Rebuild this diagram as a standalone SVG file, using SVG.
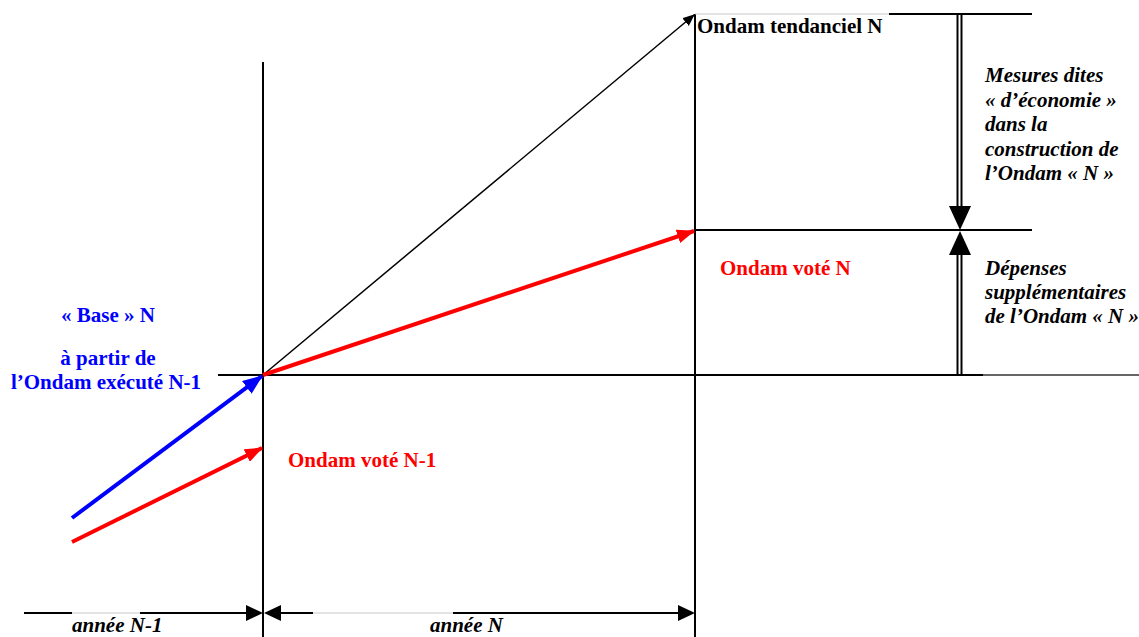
<svg xmlns="http://www.w3.org/2000/svg" width="1139" height="637" viewBox="0 0 1139 637">
<style>
text{font-family:"Liberation Serif","Times New Roman",serif;font-weight:bold;font-size:21px}
.i{font-style:italic}
.k{fill:#000}
.r{fill:#ff0000}
.b{fill:#0000ff}
.ln{stroke:#000;stroke-width:2;fill:none}
.gr{stroke:#c8c8c8;stroke-width:1;fill:none}
</style>
<defs>
<marker id="ak" markerWidth="12" markerHeight="10" refX="11" refY="5" orient="auto" markerUnits="userSpaceOnUse"><path d="M0,0 L12,5 L0,10 z" fill="#000"/></marker>
<marker id="ar" markerWidth="18" markerHeight="14" refX="17" refY="7" orient="auto" markerUnits="userSpaceOnUse"><path d="M0,0 L18,7 L0,14 z" fill="#ff0000"/></marker>
<marker id="ab" markerWidth="20" markerHeight="16" refX="19" refY="8" orient="auto" markerUnits="userSpaceOnUse"><path d="M0,0 L20,8 L0,16 z" fill="#0000ff"/></marker>
</defs>
<g id="axes">
<line class="ln" x1="263" y1="62" x2="263" y2="637"/>
<line class="ln" x1="695" y1="14" x2="695" y2="637"/>
<line class="ln" x1="218" y1="375" x2="983" y2="375"/>
<line stroke="#333" stroke-width="1.5" x1="983" y1="375" x2="1139" y2="375"/>
<line class="gr" x1="695" y1="14" x2="889" y2="14"/>
<line class="ln" x1="889" y1="14" x2="1032" y2="14"/>
<line class="ln" x1="695" y1="230" x2="1032" y2="230"/>
</g>
<g id="connectors">
<line stroke="#000" stroke-width="1.5" x1="263" y1="375" x2="694" y2="15" marker-end="url(#ak)"/>
<line stroke="#ff0000" stroke-width="4" x1="263" y1="375" x2="694" y2="231" marker-end="url(#ar)"/>
<line stroke="#0000ff" stroke-width="4" x1="72" y1="518" x2="262" y2="376" marker-end="url(#ab)"/>
<line stroke="#ff0000" stroke-width="4" x1="72" y1="542" x2="262" y2="448" marker-end="url(#ar)"/>
<g id="dim-economie">
<line class="ln" x1="957.5" y1="14" x2="957.5" y2="210"/>
<line class="ln" x1="961.5" y1="14" x2="961.5" y2="210"/>
<path d="M949,206 L971,206 L960,230 z" fill="#000"/>
</g>
<g id="dim-depenses">
<line class="ln" x1="957.5" y1="252" x2="957.5" y2="375"/>
<line class="ln" x1="961.5" y1="252" x2="961.5" y2="375"/>
<path d="M949,255 L971,255 L960,231 z" fill="#000"/>
</g>
<g id="dim-annee">
<line class="ln" x1="24" y1="613" x2="72" y2="613"/>
<line class="gr" x1="72" y1="613" x2="140" y2="613"/>
<line class="ln" x1="140" y1="613" x2="250" y2="613"/>
<path d="M246,605 L263,613 L246,621 z" fill="#000"/>
<path d="M281,605 L264,613 L281,621 z" fill="#000"/>
<line class="ln" x1="276" y1="613" x2="313" y2="613"/>
<line class="gr" x1="313" y1="613" x2="453" y2="613"/>
<line class="ln" x1="453" y1="613" x2="682" y2="613"/>
<path d="M678,605 L695,613 L678,621 z" fill="#000"/>
</g>
</g>
<g id="tendanciel"><text class="k" x="697" y="33">Ondam tendanciel N</text></g>
<g id="mesures">
<text class="k i" x="985" y="82">Mesures dites</text>
<text class="k i" x="985" y="107">« d’économie »</text>
<text class="k i" x="985" y="131">dans la</text>
<text class="k i" x="985" y="156">construction de</text>
<text class="k i" x="985" y="180">l’Ondam « N »</text>
</g>
<g id="depenses">
<text class="k i" x="985" y="275">Dépenses</text>
<text class="k i" x="985" y="299">supplémentaires</text>
<text class="k i" x="985" y="323">de l’Ondam « N »</text>
</g>
<g id="vote-n"><text class="r" x="720" y="275">Ondam voté N</text></g>
<g id="base">
<text class="b" x="108" y="322" text-anchor="middle">« Base » N</text>
<text class="b" x="108" y="365" text-anchor="middle">à partir de</text>
<text class="b" x="106" y="389" text-anchor="middle">l’Ondam exécuté N-1</text>
</g>
<g id="vote-n1"><text class="r" x="288" y="467">Ondam voté N-1</text></g>
<g id="annee-n1"><text class="k i" x="72" y="632">année N-1</text></g>
<g id="annee-n"><text class="k i" x="430" y="632">année N</text></g>
</svg>
